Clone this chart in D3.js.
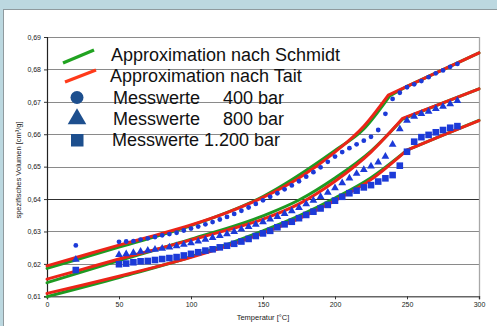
<!DOCTYPE html>
<html><head><meta charset="utf-8">
<script src="https://cdn.jsdelivr.net/npm/d3@7"></script>
<style>html,body{margin:0;padding:0;background:#bcd8e0;}svg{display:block;}</style>
</head><body>
<svg id="c" width="497" height="326"></svg>
<script>
// ---- data ----
const temps = [20,50,55,60,65,70,75,80,85,90,95,100,105,110,115,120,125,130,135,140,145,150,155,160,165,170,175,180,185,190,195,200,205,210,215,220,225,230,235,240,245,250,255,260,265,270,275,280,285];
const mess400 = [.6257,
 .6268,.6269,.6270,.6275,.6279,.6283,.6288,.6292,.6296,.6303,
 .6309,.6315,.6322,.6329,.6337,.6345,.6354,.6364,.6374,.6385,
 .6396,.6407,.6418,.6430,.6442,.6455,.6469,.6483,.6498,.6515,
 .6531,.6545,.6557,.6569,.6580,.6592,.6613,.6663,.6709,.6728,
 .6745,.6754,.6764,.6776,.6788,.6797,.6808,.6817];
const mess800 = [.6215,
 .6230,.6232,.6236,.6240,.6243,.6246,.6249,.6253,.6257,.6261,
 .6266,.6271,.6277,.6282,.6288,.6294,.6301,.6308,.6316,.6323,
 .6331,.6339,.6347,.6356,.6365,.6375,.6386,.6397,.6409,.6422,
 .6436,.6451,.6466,.6480,.6492,.6503,.6515,.6533,.6570,.6618,
 .6644,.6656,.6665,.6672,.6680,.6687,.6695,.6705];
const mess1200 = [.6181,
 .6199,.6201,.6205,.6208,.6209,.6212,.6215,.6218,.6221,.6226,
 .6231,.6236,.6241,.6245,.6251,.6256,.6262,.6269,.6277,.6286,
 .6294,.6302,.6313,.6322,.6330,.6341,.6351,.6361,.6371,.6382,
 .6395,.6407,.6418,.6426,.6436,.6443,.6454,.6464,.6474,.6503,
 .6546,.6577,.6591,.6598,.6606,.6613,.6620,.6625];

const taitT400 = [0,25,50,75,100,125,150,175,200,220,237,250,275,300];
const tait400  = [.6194,.6226,.6258,.6288,.6320,.6358,.6405,.6465,.6545,.6625,.6721,.6748,.6799,.6851];
const taitT800 = [0,25,50,75,100,125,150,175,200,225,247,275,300];
const tait800  = [.6153,.6184,.6215,.6244,.6274,.6304,.6338,.6385,.6455,.6545,.6649,.6697,.6740];
const taitT1200 = [0,25,50,75,100,125,150,175,200,225,250,275,300];
const tait1200  = [.6109,.6135,.6162,.6190,.6220,.6255,.6295,.6340,.6395,.6460,.6551,.6597,.6642];
const taitKink = [237,247,250];

const schmidtT400 = [0,50,100,150,200,220,238,250,275,300];
const schmidt400  = [.6186,.6252,.6318,.6408,.6550,.6616,.6718,.6748,.6799,.6851];
const schmidtT800 = [0,50,100,150,175,200,225,247,275,300];
const schmidt800  = [.6142,.6210,.6276,.6348,.6397,.6465,.6548,.6647,.6697,.6740];
const schmidtT1200 = [0,50,100,150,175,200,225,250,275,300];
const schmidt1200  = [.6099,.6158,.6222,.6302,.6348,.6403,.6466,.6551,.6597,.6643];
const schmidtKink = [238,247,250];

const yTicks = [0.61,0.62,0.63,0.64,0.65,0.66,0.67,0.68,0.69];
const xTicks = [0,50,100,150,200,250,300];
const legendLabels = ["Approximation nach Schmidt","Approximation nach Tait","Messwerte","Messwerte","Messwerte"];
const legendSuffix = ["","","400 bar","800 bar","1.200 bar"];

// ---- drawing ----
const svg = d3.select("#c");
const W = 497, H = 326;
svg.append("rect").attr("x",0).attr("y",0).attr("width",W).attr("height",H).attr("fill","#bcd8e0");
svg.append("rect").attr("x",3.5).attr("y",9.5).attr("width",W).attr("height",H).attr("fill","#ffffff").attr("stroke","#8f9a9e").attr("stroke-width",1);

const x = d3.scaleLinear().domain([0,300]).range([47,479]);
const y = d3.scaleLinear().domain([0.61,0.69]).range([296.3,37]);

// grid
const grid = svg.append("g");
grid.selectAll("line").data(yTicks.slice(1)).join("line")
  .attr("x1",47).attr("x2",479)
  .attr("y1",d=>Math.round(y(d))+0.5).attr("y2",d=>Math.round(y(d))+0.5)
  .attr("stroke",d=>Math.abs(d-0.64)<1e-9?"#303030":"#8a8a8a").attr("stroke-width",1.2);
svg.append("line").attr("x1",479.5).attr("x2",479.5).attr("y1",y(0.69)).attr("y2",y(0.61))
  .attr("stroke","#a8a8a8").attr("stroke-width",1.3);

// axes
const fontTick = "Liberation Sans, Arial, sans-serif";
const fmt = d => d3.format(".2f")(d).replace(".",",");
const yAxis = svg.append("g").attr("transform","translate(47,0)")
  .call(d3.axisLeft(y).tickValues(yTicks).tickFormat(fmt).tickSize(3).tickPadding(3));
const xAxis = svg.append("g").attr("transform","translate(0,"+y(0.61)+")")
  .call(d3.axisBottom(x).tickValues(xTicks).tickFormat(d3.format("d")).tickSize(3).tickPadding(3));
[yAxis,xAxis].forEach(a=>{
  a.selectAll("text").attr("font-family",fontTick).attr("font-size",7).attr("fill","#222");
  a.selectAll("line").attr("stroke","#333");
});
yAxis.select(".domain").attr("stroke","#222").attr("stroke-width",1.2);
xAxis.select(".domain").attr("stroke","#666").attr("stroke-width",1.5);

svg.append("text").attr("x",263).attr("y",320).attr("text-anchor","middle")
  .attr("font-family",fontTick).attr("font-size",7.5).attr("fill","#222").text("Temperatur [°C]");
svg.append("text").attr("transform","translate(21,170) rotate(-90)").attr("text-anchor","middle")
  .attr("font-family",fontTick).attr("font-size",7.5).attr("fill","#222").text("spezifisches Volumen [cm³/g]");

// curves: smooth up to the kink, straight after it
const green = "#1e9a22", red = "#ec2418", blue = "#1c3ad8";
const smooth = d3.line().x(d=>x(d[0])).y(d=>y(d[1])).curve(d3.curveMonotoneX);
const straight = d3.line().x(d=>x(d[0])).y(d=>y(d[1]));
const zip = (a,b)=>a.map((t,i)=>[t,b[i]]);
const lg = svg.append("g").attr("fill","none").attr("stroke-linecap","round").attr("stroke-linejoin","round");
function drawCurve(t, v, kink, color){
  const pts = zip(t,v);
  const pre = pts.filter(p=>p[0]<=kink), post = pts.filter(p=>p[0]>=kink);
  lg.append("path").attr("d",smooth(pre)+"L"+straight(post).slice(1)).attr("stroke",color).attr("stroke-width",3);
}
[[schmidtT400,schmidt400],[schmidtT800,schmidt800],[schmidtT1200,schmidt1200]].forEach(([t,v],i)=>drawCurve(t,v,schmidtKink[i],green));
[[taitT400,tait400],[taitT800,tait800],[taitT1200,tait1200]].forEach(([t,v],i)=>drawCurve(t,v,taitKink[i],red));

// markers
const mg = svg.append("g").attr("fill",blue);
mg.selectAll("circle").data(zip(temps,mess400)).join("circle")
  .attr("cx",d=>x(d[0])).attr("cy",d=>y(d[1])).attr("r",2.4);
const tri = d3.symbol().type(d3.symbolTriangle).size(26);
mg.selectAll("path.t").data(zip(temps,mess800)).join("path").attr("class","t")
  .attr("transform",d=>`translate(${x(d[0])},${y(d[1])+0.5})`).attr("d",tri());
mg.selectAll("rect").data(zip(temps,mess1200)).join("rect")
  .attr("x",d=>x(d[0])-3.3).attr("y",d=>y(d[1])-3.3).attr("width",6.6).attr("height",6.6);

// legend
const leg = svg.append("g");
const lgDark = "#1d4f8e";
leg.append("line").attr("x1",63).attr("y1",63).attr("x2",94).attr("y2",50).attr("stroke","#21a321").attr("stroke-width",3.2);
leg.append("line").attr("x1",65).attr("y1",82).attr("x2",96).attr("y2",70).attr("stroke","#ff3a1a").attr("stroke-width",3.2);
leg.append("circle").attr("cx",77).attr("cy",97.5).attr("r",6.5).attr("fill",lgDark);
leg.append("path").attr("transform","translate(77,119)").attr("d",d3.symbol().type(d3.symbolTriangle).size(150)()).attr("fill",lgDark);
leg.append("rect").attr("x",71).attr("y",134).attr("width",12.5).attr("height",12.5).attr("fill",lgDark);

const lx = [111,110,113,113,112];
const ly = [61,82,104,125,146];
const sx = [0,0,223,223,204];
leg.selectAll("text.l").data(legendLabels).join("text").attr("class","l")
  .attr("x",(d,i)=>lx[i]).attr("y",(d,i)=>ly[i])
  .attr("font-family","Liberation Sans, Arial, sans-serif").attr("font-size",18).attr("fill","#111").text(d=>d);
leg.selectAll("text.s").data(legendSuffix).join("text").attr("class","s")
  .attr("x",(d,i)=>sx[i]).attr("y",(d,i)=>ly[i])
  .attr("font-family","Liberation Sans, Arial, sans-serif").attr("font-size",18).attr("fill","#111").text(d=>d);
</script>
</body></html>
